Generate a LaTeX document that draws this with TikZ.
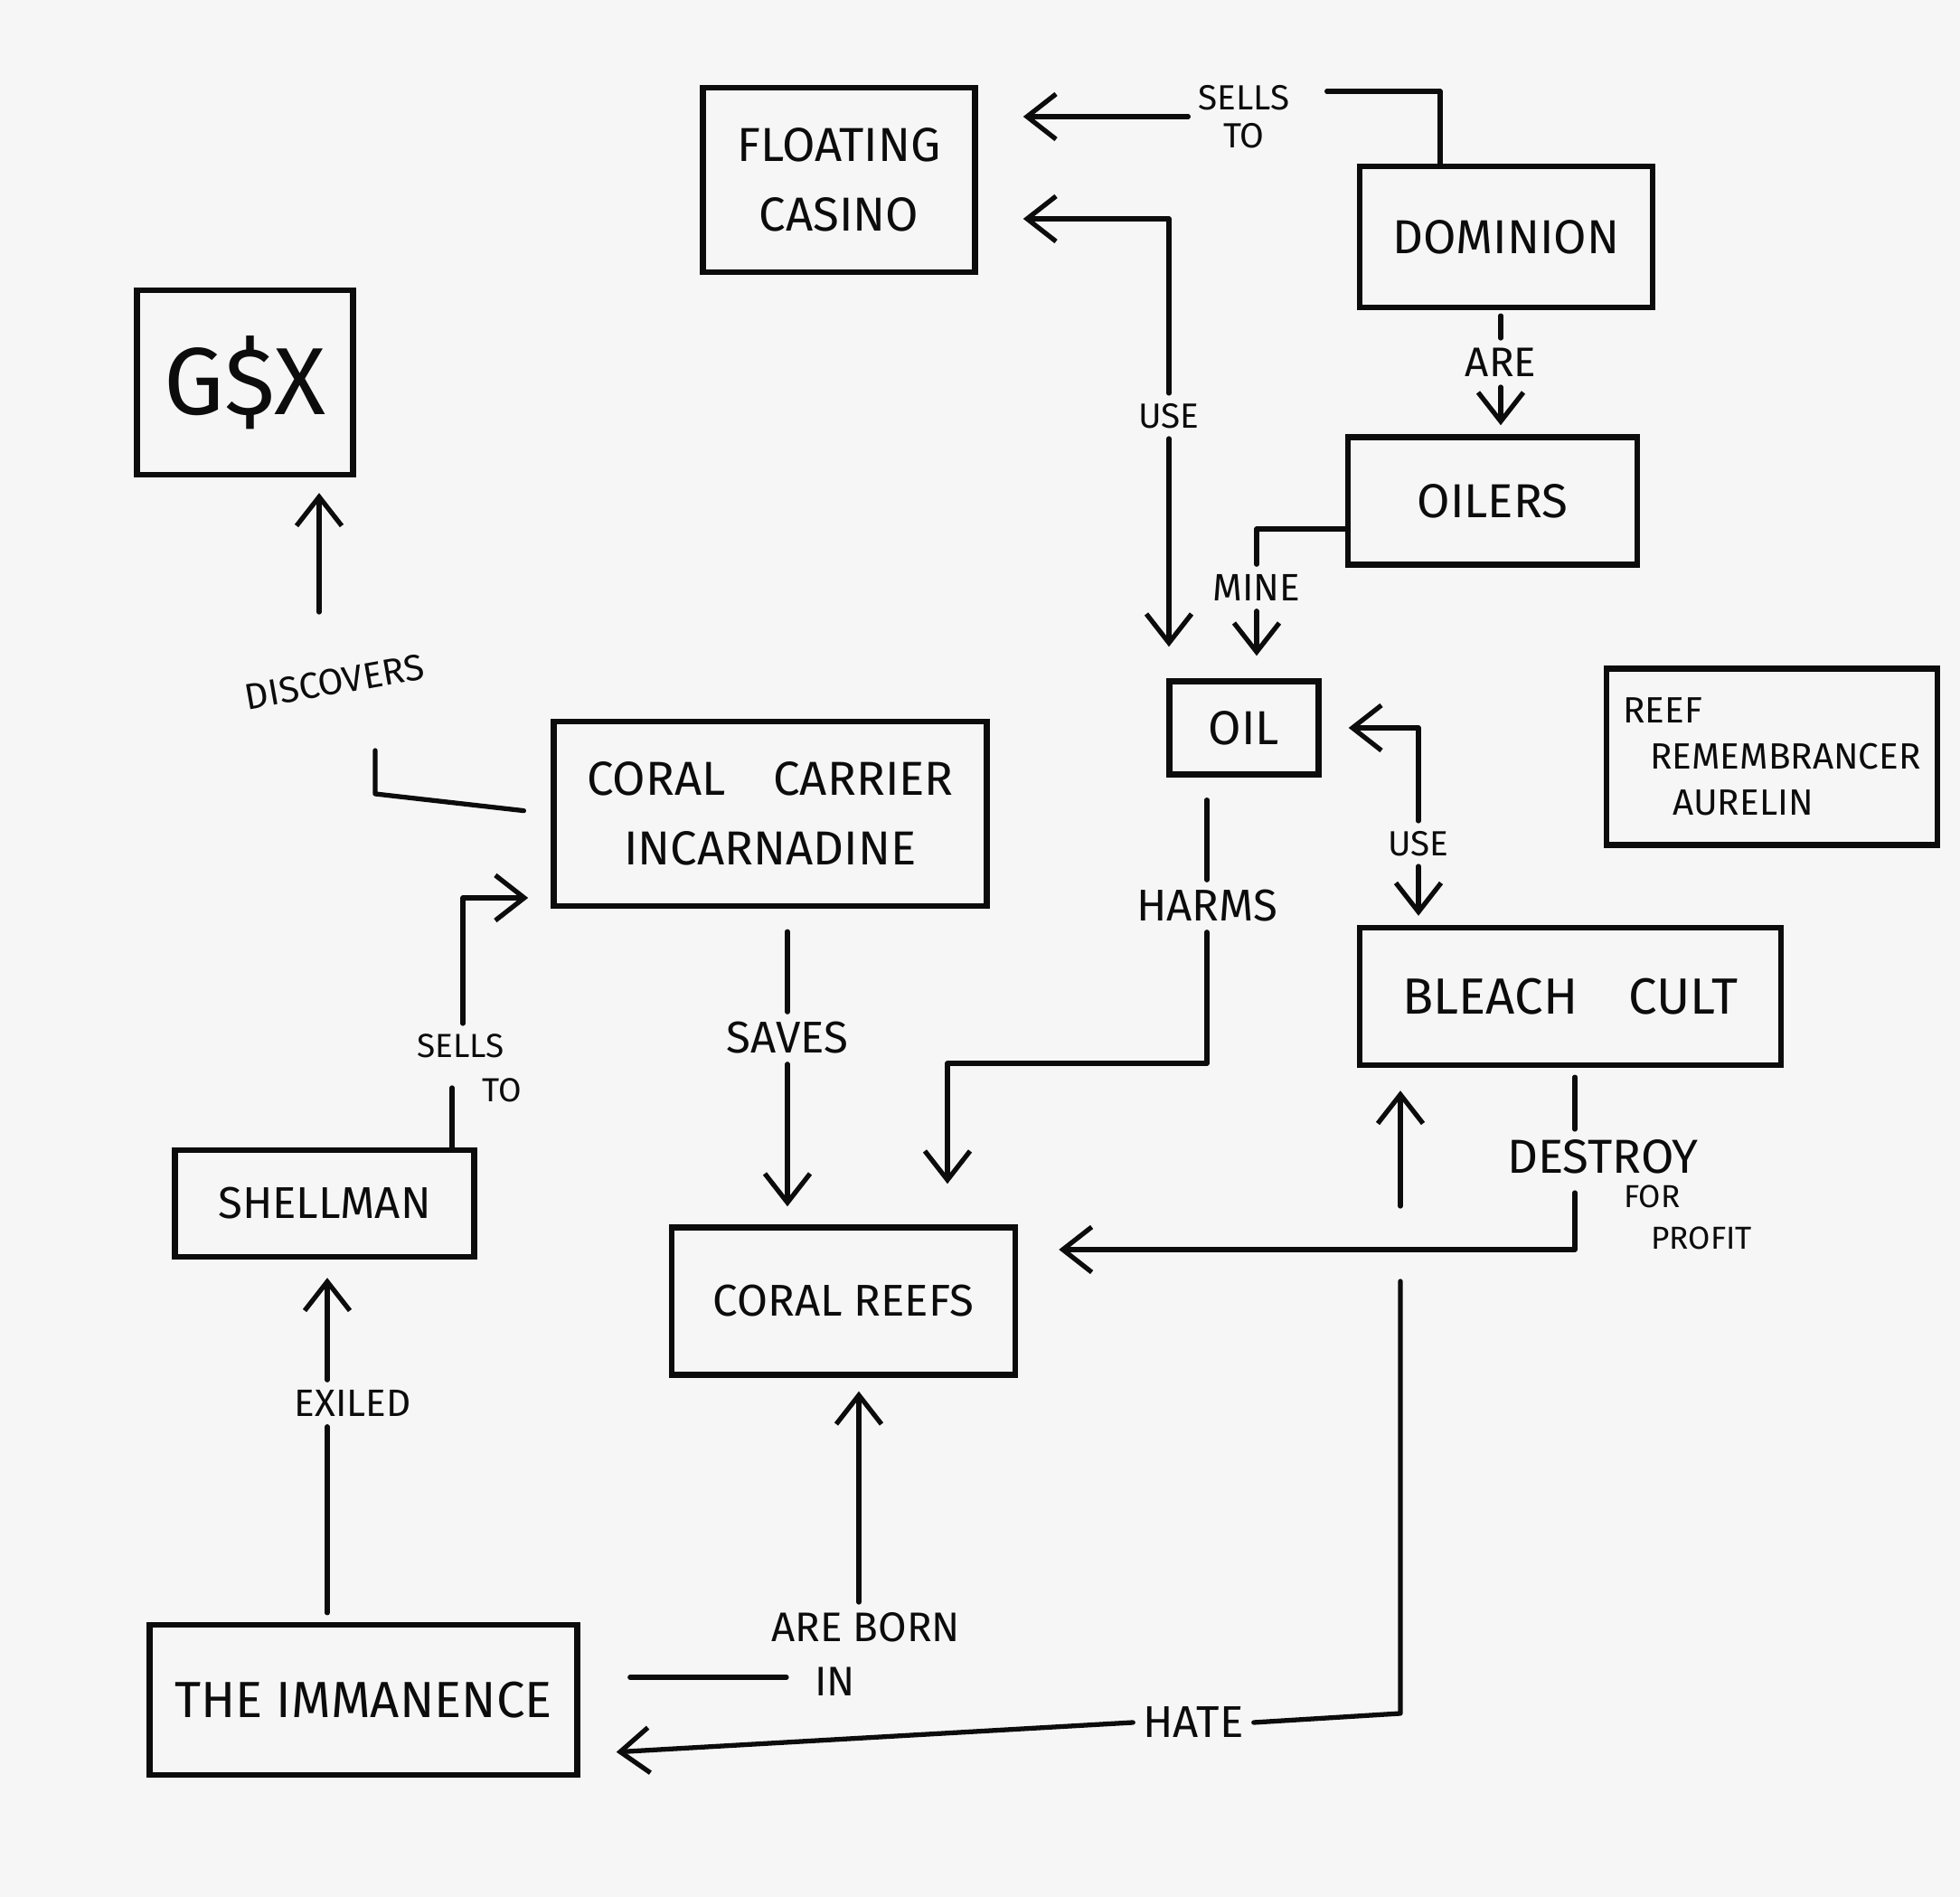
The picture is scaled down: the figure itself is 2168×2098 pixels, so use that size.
\documentclass[tikz,border=0pt]{standalone}
\usepackage{fontspec}
\setmainfont{Fira Sans}
\usetikzlibrary{arrows.meta}
\definecolor{paper}{RGB}{246,246,246}
\definecolor{ink}{RGB}{12,12,12}
\begin{document}
\begin{tikzpicture}[x=0.01cm,y=-0.01cm,
  box/.style={draw=ink, text=ink, line width=1.8pt, rectangle, align=center, font=\fontsize{15}{22}\selectfont, inner sep=0pt},
  conn/.style={draw=ink, line width=1.5pt, line cap=round, line join=round},
  arr/.style={conn, -{Straight Barb[length=3.2mm,width=5mm]}},
  lab/.style={inner sep=3pt, align=left, text=ink}]
\fill[paper] (0,0) rectangle (2168,2098);
\useasboundingbox (0,0) rectangle (2168,2098);

% boxes
\node[box, minimum width=3.01cm, minimum height=2.04cm] (casino) at (928,199) {FLOATING\\CASINO};
\node[box, minimum width=3.24cm, minimum height=1.56cm] (dominion) at (1666,262) {DOMINION};
\node[box, minimum width=2.39cm, minimum height=2.04cm, font=\fontsize{30}{36}\selectfont] (gsx) at (271,423) {G\$X};
\node[box, minimum width=3.2cm, minimum height=1.41cm] (oilers) at (1651,554) {OILERS};
\node[box, minimum width=1.65cm, minimum height=1.03cm] (oil) at (1376,805) {OIL};
\node[box, minimum width=3.66cm, minimum height=1.95cm, align=left, font=\fontsize{11.5}{14.5}\selectfont] (reef) at (1960,837) {REEF\\\hspace*{0.3cm}REMEMBRANCER\\\hspace*{0.55cm}AURELIN};
\node[box, minimum width=4.79cm, minimum height=2.04cm] (carrier) at (852,900) {CORAL\quad CARRIER\\INCARNADINE};
\node[box, minimum width=4.66cm, minimum height=1.52cm, font=\fontsize{16}{22}\selectfont] (bleach) at (1737,1102) {BLEACH\quad CULT};
\node[box, minimum width=3.31cm, minimum height=1.18cm, font=\fontsize{14}{20}\selectfont] (shellman) at (359,1331) {SHELLMAN};
\node[box, minimum width=3.80cm, minimum height=1.63cm, font=\fontsize{14}{20}\selectfont] (reefs) at (933,1439) {CORAL REEFS};
\node[box, minimum width=4.73cm, minimum height=1.66cm, font=\fontsize{16}{22}\selectfont] (immanence) at (402,1880) {THE IMMANENCE};

% labels
\node[lab, align=center, font=\fontsize{11}{12}\selectfont] (ls1) at (1376,129) {SELLS\\TO};
\node[lab, font=\fontsize{11}{13}\selectfont] (luse1) at (1293,460) {USE};
\node[lab, font=\fontsize{13}{15}\selectfont] (lare) at (1660,401) {ARE};
\node[lab, font=\fontsize{12}{14}\selectfont] (lmine) at (1390,650) {MINE};
\node[lab, font=\fontsize{11}{13}\selectfont] (luse2) at (1569,933) {USE};
\node[lab, font=\fontsize{14}{16}\selectfont] (lharms) at (1335,1002) {HARMS};
\node[lab, font=\fontsize{14}{16}\selectfont] (lsaves) at (871,1148) {SAVES};
\node[lab, font=\fontsize{15}{17}\selectfont] (ldes) at (1773,1279) {DESTROY};
\node[lab, anchor=north west, font=\fontsize{10}{13}\selectfont] (lfp) at (1785,1300) {FOR\\\hspace*{0.3cm}PROFIT};
\node[lab, font=\fontsize{14}{16}\selectfont] (lhate) at (1320,1905) {HATE};
\node[lab, anchor=north west, font=\fontsize{13}{17}\selectfont] (lborn) at (842,1772) {ARE BORN\\\hspace*{0.48cm}IN};
\node[lab, font=\fontsize{12}{14}\selectfont] (lexiled) at (390,1552) {EXILED};
\node[lab, anchor=north west, font=\fontsize{10.5}{14}\selectfont] (lsells2) at (450,1132) {SELLS\\\hspace*{0.72cm}TO};
\node[lab, rotate=10, font=\fontsize{11.5}{14}\selectfont] (ldisc) at (370,754) {DISCOVERS};

% Dominion sells to Floating Casino
\coordinate (s1) at (1593,101);
\draw[conn] (dominion.north -| s1) -- (s1) -- ([xshift=0.3cm]ls1.east |- s1);
\draw[arr, shorten >=0.5cm] (ls1.west) -- (casino.east |- ls1.west);

% Casino <-> Oil : use
\coordinate (u1) at (1282,242);
\draw[arr, shorten >=0.5cm] (luse1.north) |- (casino.east |- u1);
\draw[arr, shorten >=0.35cm] (luse1.south) -- (luse1.south |- oil.north);

% Dominion are Oilers
\draw[conn, shorten <=0.06cm] (dominion.south -| lare) -- (lare.north);
\draw[arr, shorten >=0.1cm] (lare.south) -- (oilers.north -| lare.south);

% Oilers mine Oil
\coordinate (m1) at (1390,585);
\draw[conn] (oilers.west |- m1) -| (lmine.north);
\draw[arr, shorten >=0.25cm] (lmine.south) -- (oil.north -| lmine.south);

% Oil <-> Bleach Cult : use
\draw[arr, shorten >=0.3cm] (luse2.north) |- (oil.east);
\draw[arr, shorten >=0.1cm] (luse2.south) -- (bleach.north -| luse2.south);

% Oil harms Coral Reefs
\draw[conn, shorten <=0.25cm] (oil.south -| lharms) -- (lharms);
\coordinate (h1) at (1048,1176);
\draw[arr, shorten >=0.45cm] (lharms) |- (h1) -- (reefs.north -| h1);

% Carrier saves Coral Reefs
\draw[conn, shorten <=0.25cm] (carrier.south -| lsaves) -- (lsaves);
\draw[arr, shorten >=0.2cm] (lsaves) -- (reefs.north -| lsaves);

% Bleach Cult destroy for profit Coral Reefs
\coordinate (dd) at (1742,1382);
\draw[conn, shorten <=0.1cm] (bleach.south -| dd) -- (ldes.north -| dd);
\draw[arr, shorten <=0.1cm, shorten >=0.45cm] (ldes.south -| dd) -- (dd) -- (reefs.east |- dd);

% Hate : Bleach Cult <-> The Immanence
\coordinate (hc) at (1549,1895);
\coordinate (hg1) at (1549,1334);
\coordinate (hg2) at (1549,1417);
\coordinate (hi) at (700,1940);
\draw[conn] (lhate.east) -- (hc) -- (hg2);
\draw[arr, shorten >=0.25cm] (hg1) -- (bleach.south -| hg1);
\draw[arr, shorten >=0.4cm] (lhate.west) -- (immanence.east |- hi);

% Immanence are born in Coral Reefs
\coordinate (b1) at (870,1855);
\coordinate (b2) at (950,1700);
\draw[conn, shorten <=0.55cm] (immanence.east |- b1) -- (b1);
\draw[arr, shorten >=0.15cm] (lborn.north -| b2) -- (reefs.south -| b2);

% Immanence exiled Shellman
\coordinate (e1) at (362,1600);
\draw[conn, shorten <=0.1cm] (immanence.north -| e1) -- (lexiled.south -| e1);
\draw[arr, shorten >=0.2cm] (lexiled.north -| e1) -- (shellman.south -| e1);

% Shellman sells to Carrier
\coordinate (s2) at (500,1203);
\coordinate (s3) at (512,993);
\draw[conn] (shellman.north -| s2) -- (s2);
\draw[arr, shorten >=0.25cm] (lsells2.north -| s3) |- (carrier.west |- s3);

% Carrier discovers G$X
\coordinate (dc) at (415,878);
\coordinate (dc2) at (415,830);
\coordinate (dc3) at (353,677);
\draw[conn, shorten <=0.3cm] (carrier.west) -- (dc) -- (dc2);
\draw[arr, shorten >=0.17cm] (dc3) -- (gsx.south -| dc3);
\end{tikzpicture}
\end{document}
